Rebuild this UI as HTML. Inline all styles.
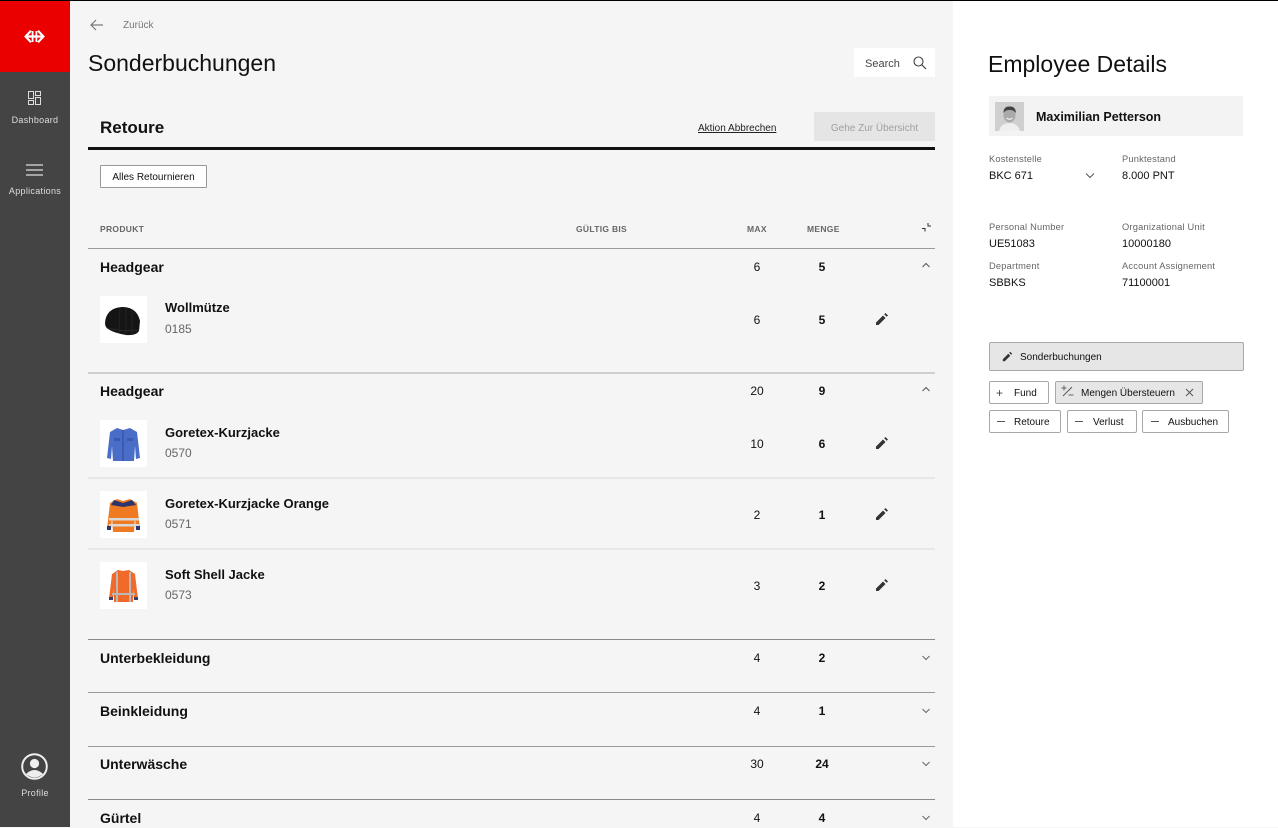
<!DOCTYPE html>
<html><head><meta charset="utf-8">
<style>
*{margin:0;padding:0;box-sizing:border-box}
body{width:1278px;height:827px;overflow:hidden;position:relative;background:#f5f5f5;font-family:"Liberation Sans",sans-serif;color:#111}
.a{position:absolute}
.t{position:absolute;white-space:nowrap;line-height:20px;height:20px}
.b{font-weight:bold}
.hl{position:absolute;left:88px;width:847px}
.num{position:absolute;width:40px;text-align:center;font-size:12px;line-height:20px;height:20px}
.img{position:absolute;width:47px;height:47px;background:#fff}
.chip{position:absolute;height:23px;border:1px solid #a8a8a8;background:#fff;border-radius:2px}
.lab{font-size:9.3px;color:#666;letter-spacing:0.2px}
.val{font-size:11px;color:#111}
</style></head><body>
<!-- top line -->
<div class="a" style="left:0;top:0;width:1278px;height:1px;background:#000;z-index:5"></div>
<!-- sidebar -->
<div class="a" style="left:0;top:0;width:70px;height:827px;background:#444"></div>
<div class="a" style="left:0;top:1px;width:70px;height:71px;background:#eb0000"></div>
<svg class="a" style="left:24px;top:30px" width="21" height="13" viewBox="0 0 21 13">
<polyline points="7,0.8 1.6,6.5 7,12.2" fill="none" stroke="#fff" stroke-width="2.2"/>
<polyline points="14,0.8 19.4,6.5 14,12.2" fill="none" stroke="#fff" stroke-width="2.2"/>
<line x1="2" y1="6.5" x2="19" y2="6.5" stroke="#fff" stroke-width="2.2"/>
<line x1="8.6" y1="1" x2="8.6" y2="12" stroke="#fff" stroke-width="1.8"/>
<line x1="12.4" y1="1" x2="12.4" y2="12" stroke="#fff" stroke-width="1.8"/>
</svg>
<svg class="a" style="left:28px;top:91px" width="14" height="15" viewBox="0 0 14 15">
<rect x="0.5" y="0.5" width="5" height="7" fill="none" stroke="#ddd" stroke-width="1"/>
<rect x="0.5" y="9.5" width="5" height="4" fill="none" stroke="#ddd" stroke-width="1"/>
<rect x="7.5" y="0.5" width="5" height="4" fill="none" stroke="#ddd" stroke-width="1"/>
<rect x="7.5" y="6.5" width="5" height="7" fill="none" stroke="#ddd" stroke-width="1"/>
</svg>
<div class="t" style="left:0;width:70px;text-align:center;top:110px;font-size:9px;color:#ddd;letter-spacing:0.3px">Dashboard</div>
<svg class="a" style="left:26px;top:164px" width="17" height="12" viewBox="0 0 17 12">
<line x1="0" y1="1" x2="17" y2="1" stroke="#ddd" stroke-width="1.2"/>
<line x1="0" y1="6" x2="17" y2="6" stroke="#ddd" stroke-width="1.2"/>
<line x1="0" y1="11" x2="17" y2="11" stroke="#ddd" stroke-width="1.2"/>
</svg>
<div class="t" style="left:0;width:70px;text-align:center;top:181px;font-size:9px;color:#ddd;letter-spacing:0.3px">Applications</div>
<svg class="a" style="left:21px;top:753px" width="27" height="27" viewBox="0 0 27 27">
<circle cx="13.5" cy="13.5" r="12.3" fill="none" stroke="#eee" stroke-width="2"/>
<circle cx="13.5" cy="10.5" r="4.6" fill="#eee"/>
<path d="M5,21 Q13.5,13 22,21 Q13.5,28 5,21 Z" fill="#eee"/>
</svg>
<div class="t" style="left:0;width:70px;text-align:center;top:783px;font-size:9px;color:#ddd;letter-spacing:0.3px">Profile</div>

<!-- right panel -->
<div class="a" style="left:953px;top:0;width:325px;height:827px;background:#fff"></div>

<!-- header main -->
<svg class="a" style="left:90px;top:19px" width="14" height="12" viewBox="0 0 14 12">
<line x1="1" y1="6" x2="13" y2="6" stroke="#777" stroke-width="1.2"/>
<polyline points="6,1 1,6 6,11" fill="none" stroke="#777" stroke-width="1.2"/>
</svg>
<div class="t" style="left:123px;top:16px;font-size:10px;color:#777">Zurück</div>
<div class="t" style="left:88px;top:49px;font-size:23px;line-height:28px;height:28px;color:#111">Sonderbuchungen</div>
<div class="a" style="left:854px;top:48px;width:81px;height:29px;background:#fff"></div>
<div class="t" style="left:865px;top:54px;font-size:11px;color:#444">Search</div>
<svg class="a" style="left:913px;top:56px" width="14" height="14" viewBox="0 0 14 14">
<circle cx="5.5" cy="5.5" r="4.5" fill="none" stroke="#444" stroke-width="1.1"/>
<line x1="9" y1="9" x2="13" y2="13" stroke="#444" stroke-width="1.2"/>
</svg>

<div class="t b" style="left:100px;top:117px;font-size:17px;line-height:22px;height:22px">Retoure</div>
<div class="t" style="left:698px;top:119px;font-size:10px;color:#222;text-decoration:underline">Aktion Abbrechen</div>
<div class="a" style="left:814px;top:112px;width:121px;height:29px;background:#e5e5e5"></div>
<div class="t" style="left:814px;width:121px;text-align:center;top:119px;font-size:10px;color:#a0a0a0">Gehe Zur Übersicht</div>
<div class="hl" style="top:147px;height:3px;background:#111"></div>

<div class="a" style="left:100px;top:165px;width:107px;height:23px;background:#fff;border:1px solid #999;border-radius:1px"></div>
<div class="t" style="left:100px;width:107px;text-align:center;top:168px;font-size:10px;color:#111">Alles Retournieren</div>

<!-- table header -->
<div class="t b" style="left:100px;top:219px;font-size:8.5px;color:#666;letter-spacing:0.3px">PRODUKT</div>
<div class="t b" style="left:576px;top:219px;font-size:8.5px;color:#666;letter-spacing:0.3px">GÜLTIG BIS</div>
<div class="t b" style="left:747px;top:219px;font-size:8.5px;color:#666;letter-spacing:0.3px">MAX</div>
<div class="t b" style="left:807px;top:219px;font-size:8.5px;color:#666;letter-spacing:0.3px">MENGE</div>
<svg class="a" style="left:921px;top:222px" width="11" height="11" viewBox="0 0 11 11">
<polyline points="1,6.5 4,6.5 4,9.5" fill="none" stroke="#333" stroke-width="1"/>
<polyline points="7,1 7,4 10,4" fill="none" stroke="#333" stroke-width="1"/>
</svg>
<div class="hl" style="top:248px;height:1px;background:#9a9a9a"></div>

<!-- Group 1 -->
<div class="t b" style="left:100px;top:257px;font-size:14px">Headgear</div>
<div class="num" style="left:737px;top:257px">6</div>
<div class="num b" style="left:802px;top:257px">5</div>
<svg class="a" style="left:921px;top:262px" width="10" height="7" viewBox="0 0 10 7"><polyline points="1.5,5 5,1.5 8.5,5" fill="none" stroke="#555" stroke-width="1"/></svg>

<div class="img" style="left:100px;top:296px">
<svg width="47" height="47" viewBox="0 0 47 47">
<path d="M5,27 Q6,12 22,11 Q37,11 40,25 L39,35 Q36,40 26,39 Q14,37 8,33 Q5,31 5,27 Z" fill="#151515"/>
<path d="M8,32 Q20,36 39,34" stroke="#2a2a2a" stroke-width="1" fill="none"/>
<path d="M20,13 L19,37 M26,12 L26,38 M32,14 L32,38" stroke="#262626" stroke-width="0.8"/>
</svg></div>
<div class="t b" style="left:165px;top:298px;font-size:13px">Wollmütze</div>
<div class="t" style="left:165px;top:319px;font-size:12px;color:#666">0185</div>
<div class="num" style="left:737px;top:310px">6</div>
<div class="num b" style="left:802px;top:310px">5</div>
<svg class="a" style="left:875px;top:312px" width="14" height="14" viewBox="0 0 14 14"><path d="M1,10.5 L1,13 L3.5,13 L10.5,6 L8,3.5 Z M11.7,4.8 L13,3.5 L10.5,1 L9.2,2.3 Z" fill="#333"/></svg>

<div class="hl" style="top:372px;height:2px;background:#cfcfcf"></div>

<!-- Group 2 -->
<div class="t b" style="left:100px;top:381px;font-size:14px">Headgear</div>
<div class="num" style="left:737px;top:381px">20</div>
<div class="num b" style="left:802px;top:381px">9</div>
<svg class="a" style="left:921px;top:386px" width="10" height="7" viewBox="0 0 10 7"><polyline points="1.5,5 5,1.5 8.5,5" fill="none" stroke="#555" stroke-width="1"/></svg>

<div class="img" style="left:100px;top:420px">
<svg width="47" height="47" viewBox="0 0 47 47">
<path d="M17,8 L23,10 L30,8 L37,12 L40,38 L36,39 L35,26 L34,41 L13,41 L12,26 L11,39 L7,38 L10,12 Z" fill="#4a6dc8"/>
<path d="M23,10 L23,41" stroke="#2f4c9c" stroke-width="1"/>
<rect x="14" y="18" width="6" height="3" fill="#3a5ab0"/><rect x="27" y="18" width="6" height="3" fill="#3a5ab0"/>
</svg></div>
<div class="t b" style="left:165px;top:423px;font-size:13px">Goretex-Kurzjacke</div>
<div class="t" style="left:165px;top:443px;font-size:12px;color:#666">0570</div>
<div class="num" style="left:737px;top:434px">10</div>
<div class="num b" style="left:802px;top:434px">6</div>
<svg class="a" style="left:875px;top:436px" width="14" height="14" viewBox="0 0 14 14"><path d="M1,10.5 L1,13 L3.5,13 L10.5,6 L8,3.5 Z M11.7,4.8 L13,3.5 L10.5,1 L9.2,2.3 Z" fill="#333"/></svg>

<div class="hl" style="top:477px;height:2px;background:#e7e7e7"></div>

<div class="img" style="left:100px;top:491px">
<svg width="47" height="47" viewBox="0 0 47 47">
<path d="M17,8 L23,10 L30,8 L37,12 L40,38 L36,39 L35,26 L34,41 L13,41 L12,26 L11,39 L7,38 L10,12 Z" fill="#f07a22"/>
<path d="M14,9 L23,12 L32,9 L36,14 L23,16 L11,14 Z" fill="#2c356e"/>
<rect x="9" y="27" width="30" height="2.5" fill="#d8d8d8"/><rect x="9" y="33" width="30" height="2.5" fill="#d8d8d8"/>
<rect x="7" y="35" width="4" height="4" fill="#2c356e"/><rect x="36" y="35" width="4" height="4" fill="#2c356e"/>
</svg></div>
<div class="t b" style="left:165px;top:494px;font-size:13px">Goretex-Kurzjacke Orange</div>
<div class="t" style="left:165px;top:514px;font-size:12px;color:#666">0571</div>
<div class="num" style="left:737px;top:505px">2</div>
<div class="num b" style="left:802px;top:505px">1</div>
<svg class="a" style="left:875px;top:507px" width="14" height="14" viewBox="0 0 14 14"><path d="M1,10.5 L1,13 L3.5,13 L10.5,6 L8,3.5 Z M11.7,4.8 L13,3.5 L10.5,1 L9.2,2.3 Z" fill="#333"/></svg>

<div class="hl" style="top:548px;height:2px;background:#e7e7e7"></div>

<div class="img" style="left:100px;top:562px">
<svg width="47" height="47" viewBox="0 0 47 47">
<path d="M18,8 L23,9 L29,8 L35,12 L38,37 L34,38 L33,27 L33,40 L14,40 L14,27 L13,38 L9,37 L12,12 Z" fill="#f26a2a"/>
<rect x="16" y="10" width="2" height="30" fill="#b9b9b9"/><rect x="29" y="10" width="2" height="30" fill="#b9b9b9"/>
<rect x="12" y="31" width="23" height="2" fill="#b9b9b9"/>
<rect x="9" y="35" width="4" height="3" fill="#3a3f6a"/><rect x="34" y="35" width="4" height="3" fill="#3a3f6a"/>
</svg></div>
<div class="t b" style="left:165px;top:565px;font-size:13px">Soft Shell Jacke</div>
<div class="t" style="left:165px;top:585px;font-size:12px;color:#666">0573</div>
<div class="num" style="left:737px;top:576px">3</div>
<div class="num b" style="left:802px;top:576px">2</div>
<svg class="a" style="left:875px;top:578px" width="14" height="14" viewBox="0 0 14 14"><path d="M1,10.5 L1,13 L3.5,13 L10.5,6 L8,3.5 Z M11.7,4.8 L13,3.5 L10.5,1 L9.2,2.3 Z" fill="#333"/></svg>

<div class="hl" style="top:639px;height:1px;background:#8a8a8a"></div>

<!-- Collapsed groups -->
<div class="t b" style="left:100px;top:648px;font-size:14px">Unterbekleidung</div>
<div class="num" style="left:737px;top:648px">4</div>
<div class="num b" style="left:802px;top:648px">2</div>
<svg class="a" style="left:921px;top:654px" width="10" height="7" viewBox="0 0 10 7"><polyline points="1.5,2 5,5.5 8.5,2" fill="none" stroke="#666" stroke-width="1"/></svg>
<div class="hl" style="top:692px;height:1px;background:#9a9a9a"></div>

<div class="t b" style="left:100px;top:701px;font-size:14px">Beinkleidung</div>
<div class="num" style="left:737px;top:701px">4</div>
<div class="num b" style="left:802px;top:701px">1</div>
<svg class="a" style="left:921px;top:707px" width="10" height="7" viewBox="0 0 10 7"><polyline points="1.5,2 5,5.5 8.5,2" fill="none" stroke="#666" stroke-width="1"/></svg>
<div class="hl" style="top:746px;height:1px;background:#9a9a9a"></div>

<div class="t b" style="left:100px;top:754px;font-size:14px">Unterwäsche</div>
<div class="num" style="left:737px;top:754px">30</div>
<div class="num b" style="left:802px;top:754px">24</div>
<svg class="a" style="left:921px;top:760px" width="10" height="7" viewBox="0 0 10 7"><polyline points="1.5,2 5,5.5 8.5,2" fill="none" stroke="#666" stroke-width="1"/></svg>
<div class="hl" style="top:799px;height:1px;background:#8a8a8a"></div>

<div class="t b" style="left:100px;top:808px;font-size:14px">Gürtel</div>
<div class="num" style="left:737px;top:808px">4</div>
<div class="num b" style="left:802px;top:808px">4</div>
<svg class="a" style="left:921px;top:814px" width="10" height="7" viewBox="0 0 10 7"><polyline points="1.5,2 5,5.5 8.5,2" fill="none" stroke="#666" stroke-width="1"/></svg>

<!-- Right panel content -->
<div class="t" style="left:988px;top:50px;font-size:23px;line-height:28px;height:28px;color:#111">Employee Details</div>
<div class="a" style="left:989px;top:96px;width:254px;height:40px;background:#f3f3f3"></div>
<svg class="a" style="left:995px;top:102px" width="29" height="29" viewBox="0 0 29 29">
<rect width="29" height="29" fill="#cfcfcf"/>
<path d="M4,29 Q6,21 14.5,21 Q23,21 25,29 Z" fill="#efefef"/>
<ellipse cx="14.5" cy="13" rx="6" ry="7.5" fill="#a9a9a9"/>
<path d="M8.2,11 Q9,4 14.5,4.5 Q20.5,4 21,11 Q18,7.5 14.5,8 Q11,7.5 8.2,11 Z" fill="#444"/>
<path d="M11.5,16 Q14.5,18.5 17.5,16" stroke="#fff" stroke-width="1" fill="none"/>
</svg>
<div class="t b" style="left:1036px;top:107px;font-size:12.5px">Maximilian Petterson</div>

<div class="t lab" style="left:989px;top:149px">Kostenstelle</div>
<div class="t val" style="left:989px;top:166px">BKC 671</div>
<svg class="a" style="left:1085px;top:172px" width="10" height="7" viewBox="0 0 10 7"><polyline points="1,1.5 5,5.5 9,1.5" fill="none" stroke="#555" stroke-width="1"/></svg>
<div class="t lab" style="left:1122px;top:149px">Punktestand</div>
<div class="t val" style="left:1122px;top:166px">8.000 PNT</div>

<div class="t lab" style="left:989px;top:217px">Personal Number</div>
<div class="t val" style="left:989px;top:234px">UE51083</div>
<div class="t lab" style="left:1122px;top:217px">Organizational Unit</div>
<div class="t val" style="left:1122px;top:234px">10000180</div>
<div class="t lab" style="left:989px;top:256px">Department</div>
<div class="t val" style="left:989px;top:273px">SBBKS</div>
<div class="t lab" style="left:1122px;top:256px">Account Assignement</div>
<div class="t val" style="left:1122px;top:273px">71100001</div>

<div class="a" style="left:989px;top:342px;width:255px;height:29px;background:#e6e6e6;border:1px solid #a8a8a8;border-radius:2px"></div>
<svg class="a" style="left:1002px;top:351px" width="11" height="11" viewBox="0 0 14 14"><path d="M1,10.5 L1,13 L3.5,13 L10.5,6 L8,3.5 Z M11.7,4.8 L13,3.5 L10.5,1 L9.2,2.3 Z" fill="#333"/></svg>
<div class="t" style="left:1020px;top:348px;font-size:10px">Sonderbuchungen</div>

<div class="chip" style="left:989px;top:381px;width:60px"></div>
<div class="t" style="left:996px;top:383px;font-size:12px;color:#444">+</div>
<div class="t" style="left:1014px;top:384px;font-size:10px">Fund</div>

<div class="chip" style="left:1055px;top:381px;width:148px;background:#e6e6e6"></div>
<svg class="a" style="left:1061px;top:385px" width="13" height="13" viewBox="0 0 13 13">
<line x1="0.5" y1="3" x2="5.5" y2="3" stroke="#555" stroke-width="0.9"/><line x1="3" y1="0.5" x2="3" y2="5.5" stroke="#555" stroke-width="0.9"/>
<line x1="11" y1="2" x2="2" y2="11" stroke="#555" stroke-width="0.9"/>
<line x1="7.5" y1="10" x2="12.5" y2="10" stroke="#555" stroke-width="0.9"/>
</svg>
<div class="t" style="left:1081px;top:384px;font-size:10px">Mengen Übersteuern</div>
<svg class="a" style="left:1185px;top:388px" width="9" height="9" viewBox="0 0 9 9"><path d="M1,1 L8,8 M8,1 L1,8" stroke="#555" stroke-width="1"/></svg>

<div class="chip" style="left:989px;top:410px;width:72px"></div>
<div class="a" style="left:997px;top:421px;width:8px;height:1px;background:#555"></div>
<div class="t" style="left:1014px;top:413px;font-size:10px">Retoure</div>

<div class="chip" style="left:1067px;top:410px;width:70px"></div>
<div class="a" style="left:1075px;top:421px;width:8px;height:1px;background:#555"></div>
<div class="t" style="left:1093px;top:413px;font-size:10px">Verlust</div>

<div class="chip" style="left:1142px;top:410px;width:87px"></div>
<div class="a" style="left:1151px;top:421px;width:8px;height:1px;background:#555"></div>
<div class="t" style="left:1168px;top:413px;font-size:10px">Ausbuchen</div>
</body></html>
